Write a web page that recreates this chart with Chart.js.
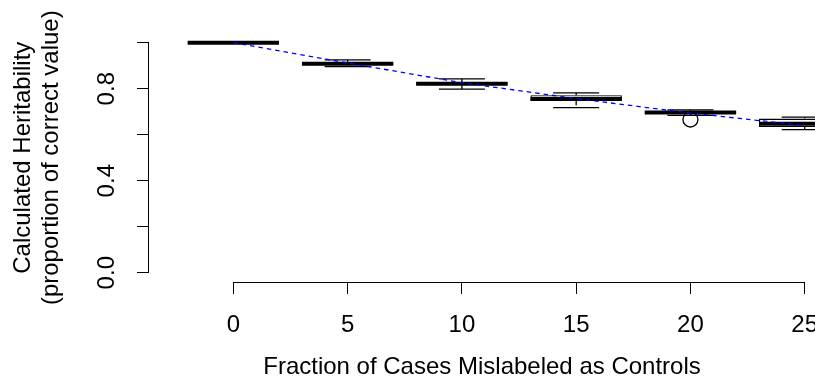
<!DOCTYPE html>
<html>
<head>
<meta charset="utf-8">
<script src="https://cdn.jsdelivr.net/npm/chart.js@4.4.1/dist/chart.umd.min.js"></script>
<style>
  html, body { margin: 0; padding: 0; background: #fff; overflow: hidden; }
  canvas { display: block; }
</style>
</head>
<body>
<canvas id="myChart" width="815" height="390"></canvas>
<script>
// fraction of cases mislabeled (box positions / x tick labels)
var fraction = [0, 5, 10, 15, 20, 25];
var xTickLabels = ['0', '5', '10', '15', '20', '25'];

// box statistics
var whiskerLow  = [1.000, 0.896, 0.798, 0.718, 0.684, 0.622];
var q1          = [1.000, 0.902, 0.815, 0.748, 0.690, 0.633];
var median      = [1.000, 0.908, 0.822, 0.755, 0.697, 0.648];
var q3          = [1.000, 0.914, 0.829, 0.772, 0.703, 0.670];
var whiskerHigh = [1.000, 0.925, 0.843, 0.782, 0.708, 0.676];
var outlierX = [20];
var outlierY = [0.666];

// blue dashed reference line
var expected = [1.000, 0.912, 0.826, 0.757, 0.694, 0.640];

var yTickValues = [0, 0.2, 0.4, 0.6, 0.8, 1.0];
var yTickLabels = ['0.0', '', '0.4', '', '0.8', ''];

var FONT = "'Liberation Sans', Arial, Helvetica, sans-serif";

// build the datasets from the arrays
var boxData = [], medData = [], capData = [], whiskData = [], expData = [], outData = [];
for (var i = 0; i < fraction.length; i++) {
    boxData.push({x: fraction[i], y: [q1[i], q3[i]]});
    medData.push({x: fraction[i], y: median[i]});
    capData.push({x: fraction[i], y: whiskerLow[i]});
    capData.push({x: fraction[i], y: whiskerHigh[i]});
    whiskData.push({x: fraction[i], y: q3[i]});
    whiskData.push({x: fraction[i], y: whiskerHigh[i]});
    whiskData.push({x: fraction[i], y: null});
    whiskData.push({x: fraction[i], y: q1[i]});
    whiskData.push({x: fraction[i], y: whiskerLow[i]});
    whiskData.push({x: fraction[i], y: null});
    expData.push({x: fraction[i], y: expected[i]});
}
for (var j = 0; j < outlierX.length; j++) {
    outData.push({x: outlierX[j], y: outlierY[j]});
}

// R style axis lines: only from first to last tick
var axisLines = {
    id: 'axisLines',
    afterDraw: function(chart) {
        var ctx = chart.ctx, xs = chart.scales.x, ys = chart.scales.y, area = chart.chartArea;
        ctx.save();
        ctx.strokeStyle = '#000';
        ctx.lineWidth = 1;
        ctx.beginPath();
        var lx = Math.round(area.left) - 0.5;
        ctx.moveTo(lx, ys.getPixelForValue(yTickValues[0]));
        ctx.lineTo(lx, ys.getPixelForValue(yTickValues[yTickValues.length - 1]));
        var by = Math.round(area.bottom) + 0.5;
        ctx.moveTo(xs.getPixelForValue(fraction[0]), by);
        ctx.lineTo(xs.getPixelForValue(fraction[fraction.length - 1]), by);
        ctx.stroke();
        ctx.restore();
    }
};

var ctx = document.getElementById('myChart').getContext('2d');
var myChart = new Chart(ctx, {
    type: 'bar',
    data: {
        datasets: [
            {
                type: 'line',
                label: 'expected',
                data: expData,
                borderColor: '#0000ff',
                borderWidth: 1.3,
                borderDash: [4.5, 4],
                pointRadius: 0,
                fill: false,
                order: 0
            },
            {
                type: 'scatter',
                label: 'median',
                data: medData,
                pointStyle: 'line',
                pointRadius: 45.7,
                borderColor: '#000',
                borderWidth: 4,
                order: 1
            },
            {
                type: 'scatter',
                label: 'outliers',
                data: outData,
                pointStyle: 'circle',
                pointRadius: 7.5,
                borderColor: '#000',
                backgroundColor: 'rgba(0,0,0,0)',
                borderWidth: 1.3,
                order: 2
            },
            {
                type: 'scatter',
                label: 'caps',
                data: capData,
                pointStyle: 'line',
                pointRadius: 23,
                borderColor: '#000',
                borderWidth: 1.3,
                order: 3
            },
            {
                type: 'line',
                label: 'whiskers',
                data: whiskData,
                borderColor: '#000',
                borderWidth: 1.3,
                borderDash: [4.5, 4],
                pointRadius: 0,
                spanGaps: false,
                fill: false,
                order: 4
            },
            {
                type: 'bar',
                label: 'boxes',
                data: boxData,
                backgroundColor: '#fff',
                borderColor: '#000',
                borderWidth: 1.3,
                borderSkipped: false,
                categoryPercentage: 1,
                barPercentage: 0.8,
                order: 5
            }
        ]
    },
    options: {
        responsive: false,
        animation: false,
        layout: { autoPadding: false, padding: { top: 33.5, left: 0, right: 0, bottom: 0 } },
        plugins: {
            legend: { display: false },
            tooltip: { enabled: false }
        },
        scales: {
            x: {
                type: 'linear',
                position: 'bottom',
                min: -3.69,
                max: 25.45,
                offset: false,
                border: { display: false },
                grid: {
                    display: true,
                    drawOnChartArea: false,
                    drawTicks: true,
                    tickLength: 12,
                    color: '#000',
                    lineWidth: 1,
                    offset: false
                },
                afterBuildTicks: function(scale) {
                    scale.ticks = fraction.map(function(v) { return {value: v}; });
                },
                afterFit: function(scale) {
                    scale.height = 108.1;
                    scale.paddingLeft = 0;
                    scale.paddingRight = 0;
                },
                ticks: {
                    autoSkip: false,
                    maxRotation: 0,
                    padding: 17,
                    color: '#000',
                    font: { family: FONT, size: 24 },
                    callback: function(value, index) { return xTickLabels[index]; }
                },
                title: {
                    display: true,
                    text: 'Fraction of Cases Mislabeled as Controls',
                    color: '#000',
                    font: { family: FONT, size: 24, lineHeight: 1 },
                    padding: { top: 0, bottom: 11 }
                }
            },
            y: {
                type: 'linear',
                position: 'left',
                min: -0.04,
                max: 1.04,
                border: { display: false },
                grid: {
                    display: true,
                    drawOnChartArea: false,
                    drawTicks: true,
                    tickLength: 12,
                    color: '#000',
                    lineWidth: 1
                },
                afterBuildTicks: function(scale) {
                    scale.ticks = yTickValues.map(function(v) { return {value: v}; });
                },
                afterFit: function(scale) {
                    scale.width = 149;
                    scale.paddingTop = 0;
                    scale.paddingBottom = 0;
                },
                ticks: {
                    autoSkip: false,
                    minRotation: 90,
                    maxRotation: 90,
                    crossAlign: 'center',
                    padding: 13,
                    color: '#000',
                    font: { family: FONT, size: 24 },
                    callback: function(value, index) { return yTickLabels[index]; }
                },
                title: {
                    display: true,
                    text: ['Calculated Heritability', '(proportion of correct value)'],
                    color: '#000',
                    font: { family: FONT, size: 24, lineHeight: 1.2 },
                    padding: { top: 8.6, bottom: 0 }
                }
            }
        }
    },
    plugins: [axisLines]
});
</script>
</body>
</html>
